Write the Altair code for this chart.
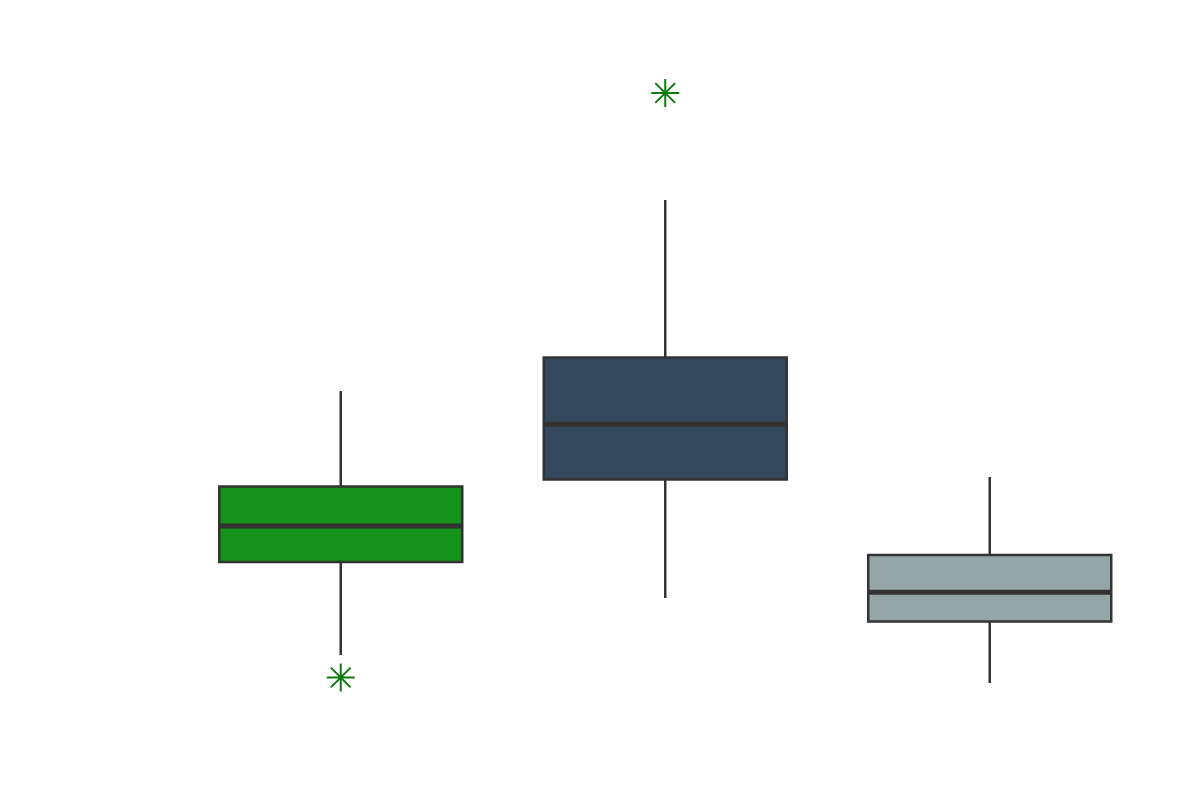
import pandas as pd
import altair as alt

# box statistics (arbitrary units, no axis shown)
groups = ["A", "B", "C"]
whisker_low = [13.7, 19.4, 10.9]
q1 = [23.0, 31.25, 17.05]
median = [26.6, 36.77, 19.97]
q3 = [30.55, 43.45, 23.7]
whisker_high = [40.1, 59.2, 31.5]
fills = ["#14921a", "#34495e", "#95a5a6"]

outlier_group = ["A", "B"]
outlier_value = [11.45, 69.9]

box_df = pd.DataFrame({
    "group": groups,
    "lo": whisker_low,
    "q1": q1,
    "med": median,
    "q3": q3,
    "hi": whisker_high,
})
out_df = pd.DataFrame({"group": outlier_group, "value": outlier_value})

x_enc = alt.X("group:N", axis=None,
              scale=alt.Scale(domain=groups, range=[170.5, 1144],
                              paddingInner=0, paddingOuter=0))
y_scale = alt.Scale(domain=[0, 78.4], nice=False, zero=False)

asterisk = ("M -1 0 L 1 0 M 0 -1 L 0 1 "
            "M -0.707 -0.707 L 0.707 0.707 M -0.707 0.707 L 0.707 -0.707")

base = alt.Chart(box_df)

whiskers = base.mark_rule(color="#333333", strokeWidth=2.5).encode(
    x=x_enc,
    y=alt.Y("lo:Q", axis=None, scale=y_scale),
    y2="hi:Q",
)

boxes = base.mark_bar(size=243, stroke="#333333", strokeWidth=2.5).encode(
    x=x_enc,
    y=alt.Y("q1:Q", axis=None, scale=y_scale),
    y2="q3:Q",
    color=alt.Color("group:N", legend=None,
                    scale=alt.Scale(domain=groups, range=fills)),
)

medians = base.mark_tick(size=243, thickness=5, color="#333333", opacity=1).encode(
    x=x_enc,
    y=alt.Y("med:Q", axis=None, scale=y_scale),
)

outliers = alt.Chart(out_df).mark_point(
    shape=asterisk, filled=False, stroke="#0f7a0f", strokeWidth=2, size=784, opacity=1
).encode(
    x=x_enc,
    y=alt.Y("value:Q", axis=None, scale=y_scale),
)

chart = alt.layer(whiskers, boxes, medians, outliers).properties(
    width=1184, height=784, padding=0, background="white"
).configure_view(stroke=None)

chart.save("out.html", embed_options={"renderer": "svg", "actions": False})
